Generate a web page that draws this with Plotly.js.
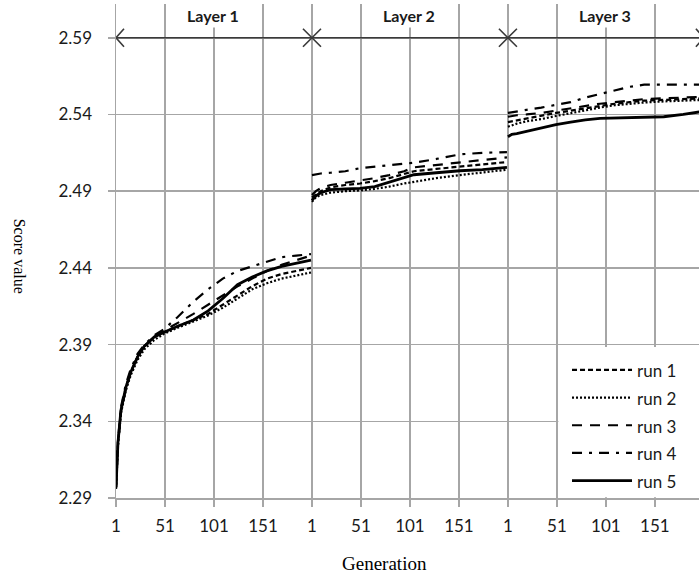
<!DOCTYPE html>
<html>
<head>
<meta charset="utf-8">
<script src="https://cdn.plot.ly/plotly-3.0.1.min.js"></script>
<style>html,body{margin:0;padding:0;background:#fff;}#chart{width:699px;height:577px;}</style>
</head>
<body>
<div id="chart"></div>
<script>
// ---- data ----
const layerNames = ['Layer 1', 'Layer 2', 'Layer 3'];
const gensPerLayer = 200;
const tickGens = [1, 51, 101, 151];
const yTicks = [2.29, 2.34, 2.39, 2.44, 2.49, 2.54, 2.59];
const runNames = ['run 1', 'run 2', 'run 3', 'run 4', 'run 5'];

// generations sampled in each layer
const gensL1 = [1, 3, 6, 11, 16, 23, 30, 40, 50, 64, 80, 95, 110, 125, 140, 155, 170, 185, 200];
const gensL2 = [1, 5, 10, 20, 35, 50, 65, 80, 95, 105, 128, 152, 175, 200];
const gensL3 = [1, 5, 10, 20, 35, 50, 65, 80, 95, 110, 125, 140, 160, 180, 200];

// run 1 (short dash)
const run1L1 = [2.297, 2.326, 2.347, 2.362, 2.372, 2.382, 2.389, 2.395, 2.398, 2.402, 2.406, 2.410, 2.416, 2.422, 2.428, 2.433, 2.436, 2.438, 2.440];
const run1L2 = [2.486, 2.488, 2.490, 2.4925, 2.494, 2.495, 2.4965, 2.4985, 2.501, 2.503, 2.5045, 2.506, 2.507, 2.509];
const run1L3 = [2.535, 2.5355, 2.536, 2.537, 2.539, 2.541, 2.5425, 2.544, 2.5455, 2.547, 2.548, 2.549, 2.5495, 2.550, 2.5505];
// run 2 (dotted)
const run2L1 = [2.296, 2.324, 2.345, 2.360, 2.370, 2.380, 2.387, 2.393, 2.397, 2.401, 2.405, 2.409, 2.414, 2.420, 2.426, 2.430, 2.433, 2.435, 2.437];
const run2L2 = [2.483, 2.486, 2.4875, 2.489, 2.490, 2.4905, 2.4915, 2.493, 2.495, 2.4962, 2.4985, 2.5005, 2.502, 2.504];
const run2L3 = [2.532, 2.533, 2.534, 2.5355, 2.537, 2.539, 2.541, 2.543, 2.5445, 2.546, 2.547, 2.5478, 2.5485, 2.549, 2.5495];
// run 3 (long dash)
const run3L1 = [2.296, 2.325, 2.346, 2.361, 2.372, 2.382, 2.389, 2.395, 2.399, 2.404, 2.410, 2.416, 2.422, 2.428, 2.433, 2.438, 2.442, 2.445, 2.448];
const run3L2 = [2.4875, 2.490, 2.492, 2.494, 2.4955, 2.497, 2.4985, 2.5005, 2.503, 2.5055, 2.507, 2.5085, 2.510, 2.512];
const run3L3 = [2.5385, 2.539, 2.5395, 2.540, 2.541, 2.5425, 2.544, 2.5455, 2.547, 2.548, 2.549, 2.550, 2.5505, 2.551, 2.5515];
// run 4 (dash-dot)
const run4L1 = [2.297, 2.327, 2.349, 2.364, 2.374, 2.384, 2.390, 2.396, 2.400, 2.408, 2.418, 2.426, 2.433, 2.438, 2.441, 2.444, 2.447, 2.448, 2.449];
const run4L2 = [2.5005, 2.501, 2.5015, 2.502, 2.503, 2.505, 2.506, 2.507, 2.508, 2.5085, 2.511, 2.514, 2.515, 2.5155];
const run4L3 = [2.541, 2.5415, 2.542, 2.543, 2.5445, 2.546, 2.548, 2.551, 2.5535, 2.556, 2.558, 2.5594, 2.5594, 2.5594, 2.5594];
// run 5 (solid)
const run5L1 = [2.297, 2.326, 2.347, 2.362, 2.372, 2.382, 2.389, 2.395, 2.398, 2.402, 2.406, 2.412, 2.420, 2.429, 2.434, 2.438, 2.441, 2.443, 2.445];
const run5L2 = [2.484, 2.487, 2.489, 2.491, 2.4915, 2.4918, 2.493, 2.496, 2.499, 2.5007, 2.502, 2.5033, 2.504, 2.5055];
const run5L3 = [2.5255, 2.527, 2.5275, 2.529, 2.531, 2.5333, 2.535, 2.5365, 2.5375, 2.5378, 2.5378, 2.538, 2.5385, 2.540, 2.542];

// ---- build ----
const layerGens = [gensL1, gensL2, gensL3];
const runs = [
  [run1L1, run1L2, run1L3],
  [run2L1, run2L2, run2L3],
  [run3L1, run3L2, run3L3],
  [run4L1, run4L2, run4L3],
  [run5L1, run5L2, run5L3]
];
const styles = [
  {dash: '5px,3px', width: 2.2},
  {dash: '2px,2px', width: 2.2},
  {dash: '10px,8px', width: 2.2},
  {dash: '10px,7px,3px,7px', width: 2.2},
  {dash: 'solid', width: 2.8}
];

function xPos(layer, gen) { return layer * gensPerLayer + (gen - 1); }

const traces = runs.map((layers, r) => {
  const x = [], y = [];
  layers.forEach((vals, l) => {
    layerGens[l].forEach((g, i) => { x.push(xPos(l, g)); y.push(vals[i]); });
    if (l < layers.length - 1) { x.push(null); y.push(null); }
  });
  return {
    type: 'scatter', mode: 'lines', x, y,
    name: '<span style="font-size:17px">' + runNames[r] + '</span>',
    connectgaps: false,
    line: {color: '#000', width: styles[r].width, dash: styles[r].dash}
  };
});

const tickvals = [], ticktext = [];
layerNames.forEach((_, l) => tickGens.forEach(g => { tickvals.push(xPos(l, g)); ticktext.push(String(g)); }));

const gridC = '#a6a6a6';
const arrowC = '#3a3a3a';
const textC = '#1a1a1a';
const topY = yTicks[yTicks.length - 1];

const shapes = [
  {type: 'rect', xref: 'x', yref: 'y', x0: xPos(2, 52.5), x1: 3 * gensPerLayer, y0: 2.2905, y1: 2.3885,
   fillcolor: '#ffffff', line: {width: 0}, layer: 'between'},
  {type: 'line', xref: 'x', yref: 'y', x0: 0, x1: 3 * gensPerLayer, y0: topY, y1: topY,
   line: {color: arrowC, width: 1.6}}
];
for (let l = 0; l <= layerNames.length; l++) {
  let p;
  if (l === 0) p = 'M8,-9L0,0L8,9';
  else if (l === layerNames.length) p = 'M-8,-9L0,0L-8,9';
  else p = 'M-9,-9L9,9M-9,9L9,-9';
  shapes.push({type: 'path', xref: 'x', yref: 'y', xsizemode: 'pixel', ysizemode: 'pixel',
    xanchor: l * gensPerLayer, yanchor: topY, path: p, line: {color: arrowC, width: 1.6}});
}

const annotations = layerNames.map((n, l) => ({
  xref: 'x', yref: 'y', x: l * gensPerLayer + gensPerLayer / 2 - 1, y: 2.6045,
  text: n, showarrow: false, bgcolor: '#ffffff', borderpad: 2,
  font: {family: 'Lato, sans-serif', size: 16, color: textC, weight: 'bold'}
}));
annotations.push({xref: 'paper', yref: 'paper', x: -0.166, y: 0.49, xanchor: 'center', yanchor: 'middle',
  text: 'Score value', textangle: 90, showarrow: false,
  font: {family: 'Liberation Serif, serif', size: 16, color: '#000'}});
annotations.push({xref: 'paper', yref: 'paper', x: 0.4614, y: -0.1336, xanchor: 'center', yanchor: 'middle',
  text: 'Generation', showarrow: false,
  font: {family: 'Liberation Serif, serif', size: 19, color: '#000'}});

const layout = {
  width: 699, height: 577,
  margin: {l: 116, r: 0, t: 4, b: 79},
  paper_bgcolor: '#fff', plot_bgcolor: '#fff',
  showlegend: true,
  legend: {x: 0.7736, y: 0.2976, xanchor: 'left', yanchor: 'top', bgcolor: 'rgba(0,0,0,0)',
    borderwidth: 0, itemwidth: 60, font: {family: 'Lato, sans-serif', size: 19, color: textC}},
  xaxis: {range: [0, 595], tickmode: 'array', tickvals, ticktext,
    showgrid: true, gridcolor: gridC, gridwidth: 1.5, zeroline: false,
    showline: true, linecolor: gridC, linewidth: 1.5,
    ticks: 'outside', ticklen: 7, tickwidth: 1.5, tickcolor: gridC, ticklabelstandoff: 5,
    tickfont: {family: 'Lato, sans-serif', size: 17, color: textC}},
  yaxis: {range: [2.29, 2.612], tickmode: 'array', tickvals: yTicks, ticktext: yTicks.map(v => v.toFixed(2)),
    showgrid: true, gridcolor: gridC, gridwidth: 1.5, zeroline: false,
    showline: true, linecolor: gridC, linewidth: 1.5,
    ticks: 'outside', ticklen: 7, tickwidth: 1.5, tickcolor: gridC, ticklabelstandoff: 12,
    tickfont: {family: 'Lato, sans-serif', size: 17, color: textC}},
  shapes, annotations
};

Plotly.newPlot('chart', traces, layout, {displayModeBar: false, staticPlot: true});
</script>
</body>
</html>
